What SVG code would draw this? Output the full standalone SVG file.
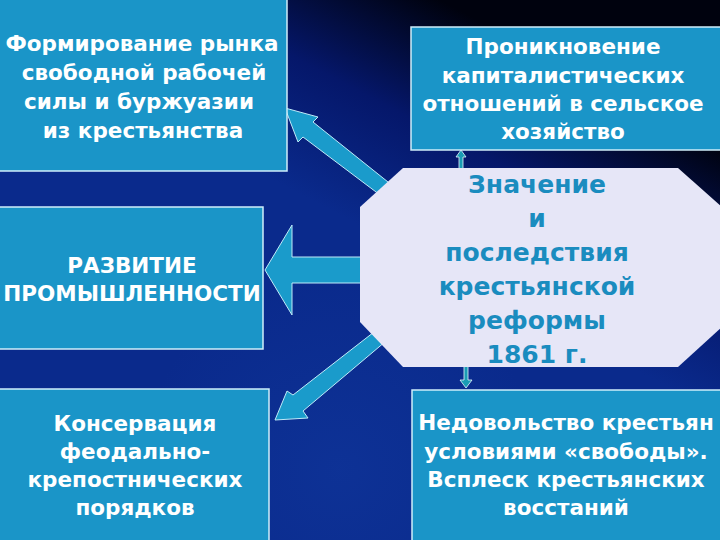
<svg xmlns="http://www.w3.org/2000/svg" width="720" height="540" viewBox="0 0 720 540">
  <defs>
    <linearGradient id="bg" gradientUnits="userSpaceOnUse" x1="440" y1="0" x2="330" y2="210">
      <stop offset="0" stop-color="#00020e"/>
      <stop offset="0.5" stop-color="#05176a"/>
      <stop offset="1" stop-color="#0a2a8c"/>
    </linearGradient>
    <radialGradient id="glow" gradientUnits="userSpaceOnUse" cx="340" cy="470" r="200">
      <stop offset="0" stop-color="#1440a8" stop-opacity="0.35"/>
      <stop offset="1" stop-color="#1440a8" stop-opacity="0"/>
    </radialGradient>
  </defs>
  <style>
    .box { fill: #1a95c8; stroke: #cfeefa; stroke-width: 1.5; }
    .arrow { fill: #1a9bcb; stroke: #bfeaf8; stroke-width: 1; stroke-linejoin: miter; }
    .small { fill: #1a9cb4; stroke: #e8f6ff; stroke-width: 0.8; }
    .t { font-family: "DejaVu Sans", Verdana, sans-serif; font-weight: bold; fill: #ffffff; text-anchor: middle; font-size: 21.5px; }
    .tc { font-family: "DejaVu Sans", Verdana, sans-serif; font-weight: bold; fill: #ffffff; text-anchor: middle; font-size: 21.5px; }
    .oct { fill: #e6e6f7; }
    .ot { font-family: "DejaVu Sans", Verdana, sans-serif; font-weight: bold; fill: #1a8cbf; text-anchor: middle; font-size: 25px; }
  </style>
  <rect width="720" height="540" fill="url(#bg)"/>
  <rect width="720" height="540" fill="url(#glow)"/>

  <g id="connectors">
    <polygon class="arrow" points="285,108 318,117 313,122 398,190 388,201 303,137 298,142"/>
    <polygon class="arrow" points="265,270 292,225 292,257 372,257 372,283 292,283 292,315"/>
    <polygon class="arrow" points="275,420 287,391 293,395 383,325 392,336 303,411 308,418"/>
    <polygon class="small" points="461,150 466,157 463,157 463,172 459,172 459,157 456,157"/>
    <polygon class="small" points="464,358 468,358 468,380 472,380 466,388 460,380 464,380"/>
  </g>

  <g id="node-labor">
    <rect class="box" x="-2" y="-2" width="289" height="173"/>
    <text class="t"><tspan x="142" y="51">Формирование рынка</tspan><tspan x="144" y="80">свободной рабочей</tspan><tspan x="139" y="109">силы и буржуазии</tspan><tspan x="143" y="138">из крестьянства</tspan></text>
  </g>

  <g id="node-capital">
    <rect class="box" x="411" y="27" width="311" height="123"/>
    <text class="t"><tspan x="563" y="54">Проникновение</tspan><tspan x="563" y="83">капиталистических</tspan><tspan x="563" y="111">отношений в сельское</tspan><tspan x="563" y="139">хозяйство</tspan></text>
  </g>

  <g id="node-industry">
    <rect class="box" x="-2" y="207" width="265" height="142"/>
    <text class="t"><tspan x="132" y="273">РАЗВИТИЕ</tspan><tspan x="132" y="301">ПРОМЫШЛЕННОСТИ</tspan></text>
  </g>

  <g id="node-feudal">
    <rect class="box" x="-2" y="389" width="271" height="153"/>
    <text class="tc"><tspan x="135" y="431">Консервация</tspan><tspan x="135" y="459">феодально-</tspan><tspan x="135" y="487">крепостнических</tspan><tspan x="135" y="515">порядков</tspan></text>
  </g>

  <g id="node-discontent">
    <rect class="box" x="412" y="390" width="310" height="152"/>
    <text class="tc"><tspan x="566" y="430">Недовольство крестьян</tspan><tspan x="566" y="459">условиями «свободы».</tspan><tspan x="566" y="487">Всплеск крестьянских</tspan><tspan x="566" y="515">восстаний</tspan></text>
  </g>

  <g id="node-center">
    <polygon class="oct" points="403,168 678,168 722,207 722,327 678,367 403,367 360,322 360,207"/>
    <text class="ot"><tspan x="537" y="193">Значение</tspan><tspan x="537" y="227">и</tspan><tspan x="537" y="261">последствия</tspan><tspan x="537" y="295">крестьянской</tspan><tspan x="537" y="329">реформы</tspan><tspan x="537" y="363">1861 г.</tspan></text>
  </g>
</svg>
